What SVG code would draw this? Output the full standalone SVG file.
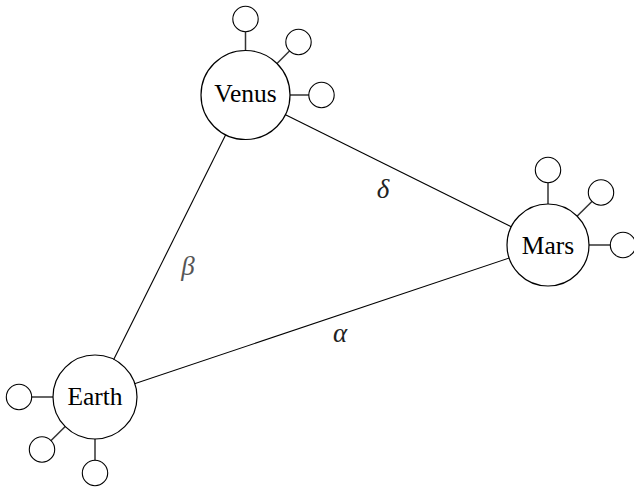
<svg xmlns="http://www.w3.org/2000/svg" width="634" height="489" viewBox="0 0 634 489">
<style>
.node{fill:#fff;stroke:#000;stroke-width:1.2}
.sat{fill:#fff;stroke:#000;stroke-width:1.1}
.edge{stroke:#000;stroke-width:1.1;fill:none}
.stub{stroke:#333;stroke-width:1.5;fill:none}
.lbl{font-family:"Liberation Serif",serif;font-size:25.5px;text-anchor:middle;fill:#000}
.greek{font-family:"Liberation Serif",serif;font-style:italic;font-size:27px;text-anchor:middle;fill:#222}
</style>
<rect width="634" height="489" fill="#fff"/>
<g id="connectors">
<line class="edge" x1="245.5" y1="95" x2="95" y2="397"/>
<line class="edge" x1="245.5" y1="95" x2="548" y2="245"/>
<line class="edge" x1="95" y1="397" x2="548" y2="245"/>
<text class="greek" x="383" y="198">δ</text>
<text class="greek" x="188" y="275" style="fill:#555">β</text>
<text class="greek" x="340" y="342">α</text>
</g>
<g id="venus">
<line class="stub" x1="245.5" y1="95" x2="245.5" y2="19"/>
<line class="stub" x1="245.5" y1="95" x2="298.5" y2="42"/>
<line class="stub" x1="245.5" y1="95" x2="321.5" y2="95"/>
<circle class="sat" cx="245.5" cy="19" r="12.7"/>
<circle class="sat" cx="298.5" cy="42" r="12.7"/>
<circle class="sat" cx="321.5" cy="95" r="12.7"/>
<circle class="node" cx="245.5" cy="95" r="44.5"/>
<text class="lbl" x="245.5" y="102">Venus</text>
</g>
<g id="mars">
<line class="stub" x1="548" y1="245" x2="548" y2="170"/>
<line class="stub" x1="548" y1="245" x2="601" y2="192.5"/>
<line class="stub" x1="548" y1="245" x2="623" y2="245"/>
<circle class="sat" cx="548" cy="170" r="12.7"/>
<circle class="sat" cx="601" cy="192.5" r="12.7"/>
<circle class="sat" cx="623" cy="245" r="12.7"/>
<circle class="node" cx="548" cy="245" r="41"/>
<text class="lbl" x="548" y="254">Mars</text>
</g>
<g id="earth">
<line class="stub" x1="95" y1="397" x2="19" y2="397"/>
<line class="stub" x1="95" y1="397" x2="42" y2="449.5"/>
<line class="stub" x1="95" y1="397" x2="95" y2="473"/>
<circle class="sat" cx="19" cy="397" r="12.7"/>
<circle class="sat" cx="42" cy="449.5" r="12.7"/>
<circle class="sat" cx="95" cy="473" r="12.7"/>
<circle class="node" cx="95" cy="397" r="42"/>
<text class="lbl" x="95" y="405">Earth</text>
</g>
</svg>
